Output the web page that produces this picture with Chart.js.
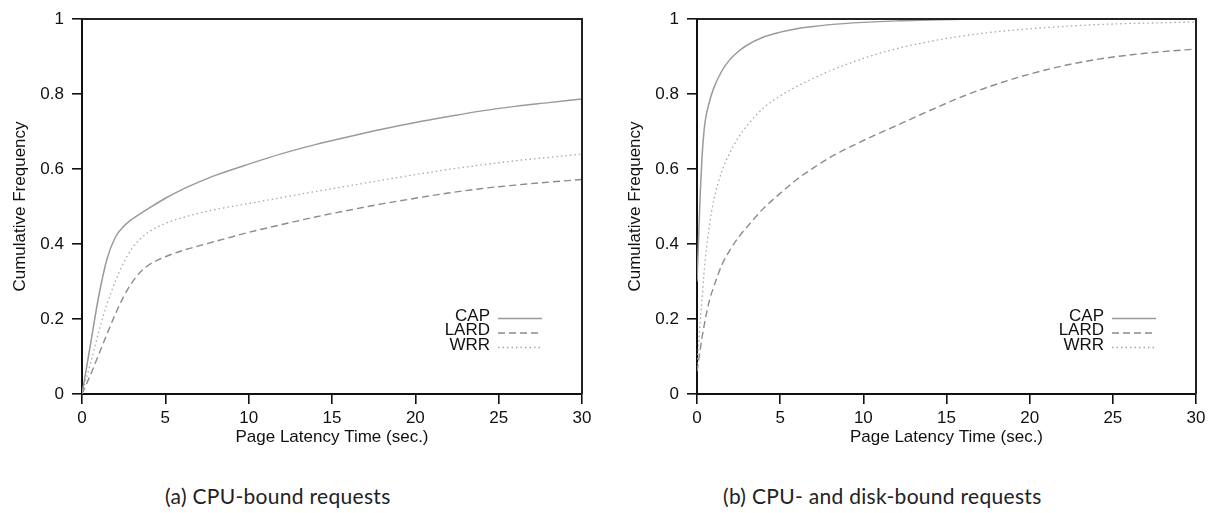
<!DOCTYPE html>
<html lang="en">
<head>
    <meta charset="UTF-8">
    <title>Page latency CDF</title>
    <script src="https://cdn.jsdelivr.net/npm/chart.js"></script>
    <style>
        body { margin: 0; background: #fff; width: 1213px; height: 513px; position: relative; overflow: hidden; }
        canvas { position: absolute; top: 0; }
        #chartA { left: 0; }
        #chartB { left: 615px; }
        .caption { position: absolute; top: 483px; font-family: Lato, sans-serif; font-size: 21px; letter-spacing: 0.3px; color: #222; white-space: nowrap; }
    </style>
</head>
<body>
    <canvas id="chartA" width="606" height="452"></canvas>
    <canvas id="chartB" width="598" height="452"></canvas>
    <div class="caption" style="left:165px">(a) CPU-bound requests</div>
    <div class="caption" style="left:723px">(b) CPU- and disk-bound requests</div>

    <script>
        // (a) CPU-bound: latency grid (sec.) and cumulative frequency
        const latencyA = [0, 0.5, 1, 1.5, 2, 2.5, 3, 3.5, 4, 5, 6, 7, 8, 10, 12, 14, 16, 18, 20, 22, 24, 26, 28, 30];
        const capA  = [0, 0.13, 0.26, 0.36, 0.418, 0.447, 0.466, 0.481, 0.495, 0.522, 0.545, 0.565, 0.583, 0.613, 0.641, 0.665, 0.686, 0.706, 0.724, 0.740, 0.755, 0.767, 0.777, 0.787];
        const lardA = [0, 0.05, 0.105, 0.16, 0.213, 0.26, 0.297, 0.325, 0.344, 0.366, 0.382, 0.395, 0.407, 0.431, 0.452, 0.472, 0.49, 0.507, 0.522, 0.536, 0.548, 0.557, 0.565, 0.572];
        const wrrA  = [0, 0.08, 0.165, 0.24, 0.30, 0.35, 0.388, 0.414, 0.432, 0.455, 0.47, 0.482, 0.492, 0.508, 0.524, 0.54, 0.555, 0.57, 0.585, 0.599, 0.611, 0.622, 0.631, 0.64];

        // (b) CPU- and disk-bound
        const latencyB = [0, 0.1, 0.2, 0.3, 0.4, 0.5, 0.75, 1, 1.5, 2, 2.5, 3, 4, 5, 6, 7, 8, 10, 12, 14, 16, 18, 20, 22, 24, 26, 28, 30];
        const capB  = [0.3, 0.42, 0.54, 0.63, 0.69, 0.73, 0.78, 0.815, 0.862, 0.893, 0.914, 0.93, 0.952, 0.965, 0.974, 0.98, 0.985, 0.991, 0.995, 0.997, 0.999, 1, 1, 1, 1, 1, 1, 1];
        const lardB = [0.06, 0.09, 0.12, 0.15, 0.175, 0.2, 0.25, 0.285, 0.345, 0.385, 0.418, 0.445, 0.495, 0.535, 0.572, 0.603, 0.631, 0.676, 0.716, 0.756, 0.794, 0.826, 0.853, 0.875, 0.892, 0.904, 0.913, 0.92];
        const wrrB  = [0.08, 0.13, 0.2, 0.25, 0.31, 0.36, 0.45, 0.515, 0.595, 0.645, 0.685, 0.715, 0.763, 0.795, 0.82, 0.842, 0.862, 0.895, 0.921, 0.94, 0.955, 0.966, 0.974, 0.98, 0.985, 0.988, 0.99, 0.992];

        const seriesNames = ['CAP', 'LARD', 'WRR'];
        const xTicks = [0, 5, 10, 15, 20, 25, 30];
        const yTicks = [0, 0.2, 0.4, 0.6, 0.8, 1];

        const FONT = { family: '"Liberation Sans", Arial, sans-serif', size: 17 };

        const lineStyles = [
            { borderColor: '#9a9a9a', borderWidth: 1.5, borderDash: [] },
            { borderColor: '#8c8c8c', borderWidth: 1.4, borderDash: [7, 4] },
            { borderColor: '#a8a8a8', borderWidth: 1.3, borderDash: [1.5, 3] }
        ];

        // top/right frame and the small key in the lower right
        const frameAndKey = {
            id: 'frameAndKey',
            afterDatasetsDraw(chart) {
                const { ctx, chartArea: a } = chart;
                ctx.save();
                ctx.strokeStyle = '#222';
                ctx.lineWidth = 2;
                ctx.beginPath();
                ctx.moveTo(a.left, a.top);
                ctx.lineTo(a.right, a.top);
                ctx.lineTo(a.right, a.bottom);
                ctx.stroke();

                ctx.font = FONT.size + 'px ' + FONT.family;
                ctx.textAlign = 'right';
                ctx.textBaseline = 'middle';
                chart.data.datasets.forEach((ds, i) => {
                    const y = a.bottom - 78 + i * 14.5;
                    ctx.fillStyle = '#111';
                    ctx.fillText(ds.label, a.right - 92, y);
                    ctx.strokeStyle = ds.borderColor;
                    ctx.lineWidth = ds.borderWidth;
                    ctx.setLineDash(ds.borderDash);
                    ctx.beginPath();
                    ctx.moveTo(a.right - 84, y + 2.5);
                    ctx.lineTo(a.right - 40, y + 2.5);
                    ctx.stroke();
                    ctx.setLineDash([]);
                });
                ctx.restore();
            }
        };

        function makeChart(id, latency, values, rightPad) {
            const datasets = values.map((vals, i) => ({
                label: seriesNames[i],
                data: latency.map((x, k) => ({ x: x, y: vals[k] })),
                borderColor: lineStyles[i].borderColor,
                borderWidth: lineStyles[i].borderWidth,
                borderDash: lineStyles[i].borderDash,
                pointRadius: 0,
                fill: false,
                cubicInterpolationMode: 'monotone'
            }));

            const tickGrid = { drawOnChartArea: false, drawTicks: true, tickLength: 10, color: '#111', lineWidth: 1.6 };

            return new Chart(document.getElementById(id), {
                type: 'line',
                data: { datasets: datasets },
                plugins: [frameAndKey],
                options: {
                    responsive: false,
                    animation: false,
                    devicePixelRatio: 1,
                    layout: { padding: { top: 19, right: rightPad, left: 0, bottom: 0 } },
                    plugins: { legend: { display: false }, tooltip: { enabled: false } },
                    scales: {
                        x: {
                            type: 'linear', min: 0, max: 30,
                            afterBuildTicks: s => { s.ticks = xTicks.map(v => ({ value: v })); },
                            afterFit: s => { s.height = 58; },
                            grid: tickGrid,
                            border: { display: true, color: '#111', width: 2 },
                            ticks: { color: '#111', font: FONT, padding: 4, maxRotation: 0 },
                            title: { display: true, text: 'Page Latency Time (sec.)', color: '#111', font: FONT, padding: { top: 0, bottom: 4 } }
                        },
                        y: {
                            min: 0, max: 1,
                            afterBuildTicks: s => { s.ticks = yTicks.map(v => ({ value: v })); },
                            afterFit: s => { s.width = 82; },
                            grid: tickGrid,
                            border: { display: true, color: '#111', width: 2 },
                            ticks: { color: '#111', font: FONT, padding: 8, callback: v => String(Number(v.toFixed(1))) },
                            title: { display: true, text: 'Cumulative Frequency', color: '#111', font: FONT, padding: { top: 10, bottom: 0 } }
                        }
                    }
                }
            });
        }

        makeChart('chartA', latencyA, [capA, lardA, wrrA], 24);
        makeChart('chartB', latencyB, [capB, lardB, wrrB], 17);
    </script>
</body>
</html>
